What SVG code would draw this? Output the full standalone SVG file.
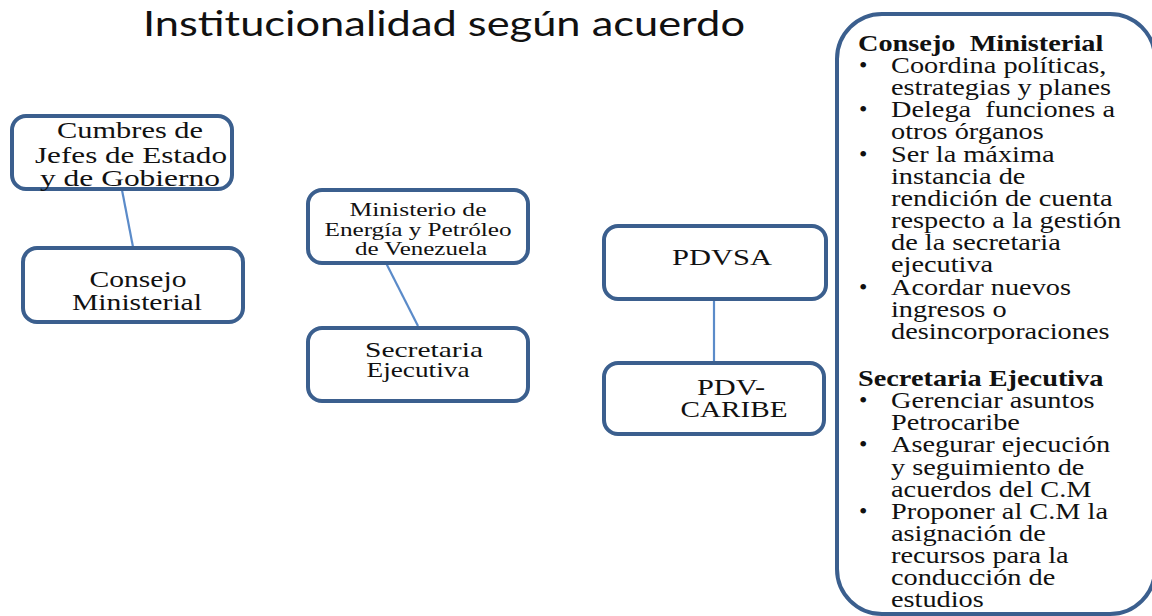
<svg xmlns="http://www.w3.org/2000/svg" width="1152" height="616" viewBox="0 0 1152 616">
<style>
.box{fill:#fff;stroke:#3b5f8e;stroke-width:4}
.lbl{font-family:"Liberation Serif","Times New Roman",serif;fill:#111;text-anchor:middle}
.conn{stroke:#5b8bc9;stroke-width:2.2;fill:none}
.pt{font-family:"Liberation Serif","Times New Roman",serif;font-size:24px;fill:#111;white-space:pre}
.ph{font-family:"Liberation Serif","Times New Roman",serif;font-size:24px;font-weight:bold;fill:#111;white-space:pre}
</style>
<rect width="1152" height="616" fill="#fff"/>
<text x="143" y="36" font-family="Lato,'Open Sans',sans-serif" font-size="34" fill="#111" textLength="602" lengthAdjust="spacingAndGlyphs">Institucionalidad según acuerdo</text>

<g id="connectors">
<line class="conn" x1="122" y1="190" x2="133" y2="247"/>
<line class="conn" x1="385" y1="261" x2="418" y2="326"/>
<line class="conn" x1="714" y1="300" x2="714" y2="362"/>
</g>

<g id="cumbres">
<rect class="box" x="12" y="116" width="220" height="73" rx="14"/>
<text class="lbl" font-size="23"><tspan x="130" y="138" textLength="146" lengthAdjust="spacingAndGlyphs">Cumbres de</tspan><tspan x="131" y="163" textLength="192" lengthAdjust="spacingAndGlyphs">Jefes de Estado</tspan><tspan x="130" y="186" textLength="180" lengthAdjust="spacingAndGlyphs">y de Gobierno</tspan></text>
</g>
<g id="consejo">
<rect class="box" x="23" y="248" width="220" height="74" rx="14"/>
<text class="lbl" font-size="23"><tspan x="138" y="287" textLength="97" lengthAdjust="spacingAndGlyphs">Consejo</tspan><tspan x="137" y="310" textLength="130" lengthAdjust="spacingAndGlyphs">Ministerial</tspan></text>
</g>
<g id="ministerio">
<rect class="box" x="308" y="190" width="220" height="73" rx="14"/>
<text class="lbl" font-size="19.5"><tspan x="418" y="216" textLength="137" lengthAdjust="spacingAndGlyphs">Ministerio de</tspan><tspan x="418" y="236" textLength="187" lengthAdjust="spacingAndGlyphs">Energía y Petróleo</tspan><tspan x="421" y="255" textLength="132" lengthAdjust="spacingAndGlyphs">de Venezuela</tspan></text>
</g>
<g id="secretaria">
<rect class="box" x="308" y="328" width="220" height="73" rx="14"/>
<text class="lbl" font-size="22"><tspan x="424" y="357" textLength="118" lengthAdjust="spacingAndGlyphs">Secretaria</tspan><tspan x="418" y="377" textLength="103" lengthAdjust="spacingAndGlyphs">Ejecutiva</tspan></text>
</g>
<g id="pdvsa">
<rect class="box" x="604" y="226" width="222" height="73" rx="14"/>
<text class="lbl" font-size="23" x="722" y="265" textLength="100" lengthAdjust="spacingAndGlyphs">PDVSA</text>
</g>
<g id="pdvcaribe">
<rect class="box" x="604" y="363" width="220" height="71" rx="14"/>
<text class="lbl" font-size="23"><tspan x="731" y="395" textLength="68" lengthAdjust="spacingAndGlyphs">PDV-</tspan><tspan x="734" y="417" textLength="107" lengthAdjust="spacingAndGlyphs">CARIBE</tspan></text>
</g>

<g id="panel">
<rect class="box" x="837" y="14" width="318" height="600" rx="45"/>
<g transform="translate(858 0) scale(1.18 1)">
<text class="ph" x="0" y="51">Consejo  Ministerial</text>
<text class="ph" x="0" y="386">Secretaria Ejecutiva</text>
</g>
<g>
<text class="pt" x="859" y="73">•</text>
<text class="pt" x="859" y="117">•</text>
<text class="pt" x="859" y="162">•</text>
<text class="pt" x="859" y="295">•</text>
<text class="pt" x="859" y="408">•</text>
<text class="pt" x="859" y="452">•</text>
<text class="pt" x="859" y="519">•</text>
</g>
<g transform="translate(891 0) scale(1.18 1)">
<text class="pt" x="0" y="73">Coordina políticas,</text>
<text class="pt" x="0" y="95">estrategias y planes</text>
<text class="pt" x="0" y="117">Delega  funciones a</text>
<text class="pt" x="0" y="139">otros órganos</text>
<text class="pt" x="0" y="162">Ser la máxima</text>
<text class="pt" x="0" y="184">instancia de</text>
<text class="pt" x="0" y="206">rendición de cuenta</text>
<text class="pt" x="0" y="228">respecto a la gestión</text>
<text class="pt" x="0" y="250">de la secretaria</text>
<text class="pt" x="0" y="272">ejecutiva</text>
<text class="pt" x="0" y="295">Acordar nuevos</text>
<text class="pt" x="0" y="317">ingresos o</text>
<text class="pt" x="0" y="339">desincorporaciones</text>
<text class="pt" x="0" y="408">Gerenciar asuntos</text>
<text class="pt" x="0" y="430">Petrocaribe</text>
<text class="pt" x="0" y="452">Asegurar ejecución</text>
<text class="pt" x="0" y="475">y seguimiento de</text>
<text class="pt" x="0" y="497">acuerdos del C.M</text>
<text class="pt" x="0" y="519">Proponer al C.M la</text>
<text class="pt" x="0" y="541">asignación de</text>
<text class="pt" x="0" y="563">recursos para la</text>
<text class="pt" x="0" y="585">conducción de</text>
<text class="pt" x="0" y="607">estudios</text>
</g>
</g>
</svg>
